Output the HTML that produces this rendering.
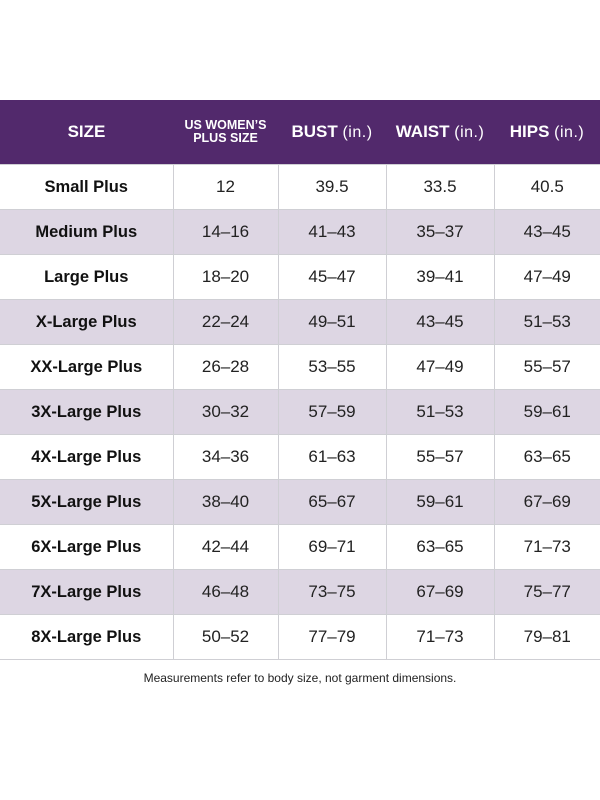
<!DOCTYPE html>
<html><head><style>
body{margin:0;width:600px;height:800px;background:#fff;font-family:"Liberation Sans",sans-serif;position:relative;overflow:hidden}
table{position:absolute;top:100px;left:0;width:600px;border-collapse:collapse;table-layout:fixed}
th{background:#52296c;color:#fff;height:64px;font-weight:bold;font-size:17px;padding:0;border:none}
th .s{font-weight:normal;font-size:16px;letter-spacing:0.5px}
th.us{font-size:12.5px;line-height:13px}
td{height:44px;border:1px solid #cfcfd4;text-align:center;padding:0;font-size:17px;color:#222;font-weight:300}
td:first-child{font-weight:bold;color:#111;font-size:16.5px;border-left:none}
td:last-child{border-right:none}
tr.a td{background:#ddd6e3}
.f{position:absolute;top:671px;left:0;width:600px;text-align:center;font-size:12px;color:#222}
</style></head><body>
<table>
<colgroup><col style="width:173px"><col style="width:105px"><col style="width:108px"><col style="width:108px"><col style="width:106px"></colgroup>
<tr><th>SIZE</th><th class="us">US WOMEN’S<br>PLUS SIZE</th><th>BUST <span class="s">(in.)</span></th><th>WAIST <span class="s">(in.)</span></th><th>HIPS <span class="s">(in.)</span></th></tr>
<tr><td>Small Plus</td><td>12</td><td>39.5</td><td>33.5</td><td>40.5</td></tr>
<tr class="a"><td>Medium Plus</td><td>14–16</td><td>41–43</td><td>35–37</td><td>43–45</td></tr>
<tr><td>Large Plus</td><td>18–20</td><td>45–47</td><td>39–41</td><td>47–49</td></tr>
<tr class="a"><td>X-Large Plus</td><td>22–24</td><td>49–51</td><td>43–45</td><td>51–53</td></tr>
<tr><td>XX-Large Plus</td><td>26–28</td><td>53–55</td><td>47–49</td><td>55–57</td></tr>
<tr class="a"><td>3X-Large Plus</td><td>30–32</td><td>57–59</td><td>51–53</td><td>59–61</td></tr>
<tr><td>4X-Large Plus</td><td>34–36</td><td>61–63</td><td>55–57</td><td>63–65</td></tr>
<tr class="a"><td>5X-Large Plus</td><td>38–40</td><td>65–67</td><td>59–61</td><td>67–69</td></tr>
<tr><td>6X-Large Plus</td><td>42–44</td><td>69–71</td><td>63–65</td><td>71–73</td></tr>
<tr class="a"><td>7X-Large Plus</td><td>46–48</td><td>73–75</td><td>67–69</td><td>75–77</td></tr>
<tr><td>8X-Large Plus</td><td>50–52</td><td>77–79</td><td>71–73</td><td>79–81</td></tr>
</table>
<div class="f">Measurements refer to body size, not garment dimensions.</div>
</body></html>
